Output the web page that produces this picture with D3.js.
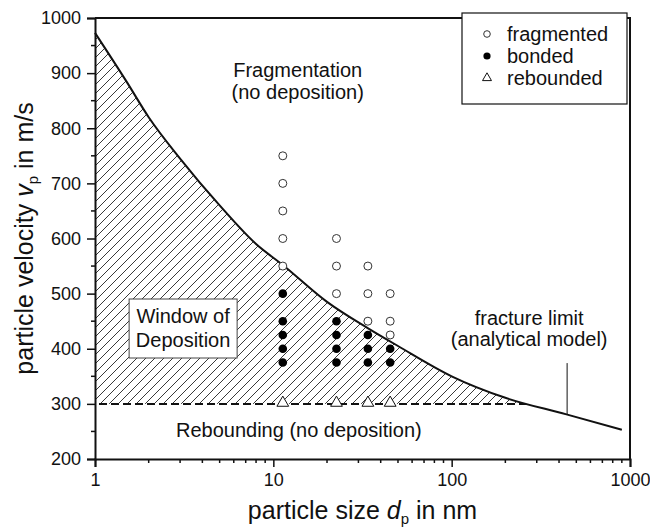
<!DOCTYPE html>
<html><head><meta charset="utf-8">
<script src="https://cdn.jsdelivr.net/npm/d3@7/dist/d3.min.js"></script>
<style>
body{margin:0;background:#fff;}
svg text{font-family:"Liberation Sans",Arial,sans-serif;fill:#111;}
</style></head>
<body><svg id="c" width="650" height="528"></svg>
<script>
// ---- data ----
const curveD = [1, 1.5, 2, 3, 5, 8, 11.3, 20, 34, 50, 100, 200, 440, 900];
const curveV = [973, 885, 820, 745, 660, 590, 552, 485, 437, 405, 350, 311, 281, 253];
const fragD = [11.3,11.3,11.3,11.3,11.3, 22.6,22.6,22.6, 33.9,33.9,33.9, 45.2,45.2,45.2];
const fragV = [750,700,650,600,550, 600,550,500, 550,500,450, 500,450,425];
const bondD = [11.3,11.3,11.3,11.3,11.3, 22.6,22.6,22.6,22.6, 33.9,33.9,33.9, 45.2,45.2];
const bondV = [500,450,425,400,375, 450,425,400,375, 425,400,375, 400,375];
const rebD = [11.3, 22.6, 33.9, 45.2];
const rebV = [300, 300, 300, 300];
const reboundLimit = 300;
const xTicks = [1, 10, 100, 1000];
const yTicks = [200, 300, 400, 500, 600, 700, 800, 900, 1000];
const legendLabels = ["fragmented", "bonded", "rebounded"];

const svg = d3.select("#c");
const W = 650, H = 528;
const m = {l:95, t:18, r:20, b:69};
const x = d3.scaleLog().domain([1,1000]).range([m.l, W-m.r]);
const y = d3.scaleLinear().domain([200,1000]).range([H-m.b, m.t]);

// hatch pattern
const defs = svg.append("defs");
const pat = defs.append("pattern").attr("id","hatch").attr("patternUnits","userSpaceOnUse")
  .attr("width",9).attr("height",9);
pat.append("path").attr("d","M0,9 L9,0 M-2,2 L2,-2 M7,11 L11,7")
  .attr("stroke","#222").attr("stroke-width",0.9);

const pts = curveD.map((d,i)=>[d,curveV[i]]);
const line = d3.line().x(d=>x(d[0])).y(d=>y(d[1])).curve(d3.curveMonotoneX);
const curvePath = line(pts);

defs.append("clipPath").attr("id","under").append("path")
  .attr("d", curvePath + `L${x(curveD[curveD.length-1])},${y(200)}L${x(1)},${y(200)}Z`);

// hatched window
svg.append("rect").attr("clip-path","url(#under)")
  .attr("x",x(1)).attr("y",y(1000)).attr("width",x(1000)-x(1)).attr("height",y(reboundLimit)-y(1000))
  .attr("fill","url(#hatch)");

// dashed rebound line
svg.append("line").attr("clip-path","url(#under)")
  .attr("x1",x(1)+4).attr("x2",x(1000)).attr("y1",y(reboundLimit)).attr("y2",y(reboundLimit))
  .attr("stroke","#111").attr("stroke-width",2).attr("stroke-dasharray","8,4");

// fracture curve
svg.append("path").attr("d",curvePath).attr("fill","none").attr("stroke","#111").attr("stroke-width",2);

// annotation pointer
const ptrD = 444, ptrTop = 374;
const interpV = d=>{ for(let i=0;i<curveD.length-1;i++){ if(d>=curveD[i]&&d<=curveD[i+1]){const t=(Math.log(d)-Math.log(curveD[i]))/(Math.log(curveD[i+1])-Math.log(curveD[i]));return curveV[i]+t*(curveV[i+1]-curveV[i]);}} return curveV[curveV.length-1];};
svg.append("line").attr("x1",x(ptrD)).attr("x2",x(ptrD)).attr("y1",y(ptrTop)).attr("y2",y(interpV(ptrD)))
  .attr("stroke","#111").attr("stroke-width",1);

// Window of deposition box
const wx = x(3.12);
svg.append("rect").attr("x",wx-54).attr("y",y(1000)+281).attr("width",108).attr("height",59)
  .attr("fill","#fff").attr("stroke","#444").attr("stroke-width",1);
svg.append("text").attr("x",wx).attr("y",y(447)).attr("text-anchor","middle").attr("font-size",20).text("Window of");
svg.append("text").attr("x",wx).attr("y",y(403)).attr("text-anchor","middle").attr("font-size",20).text("Deposition");

// region labels
const lab = (d,v,t)=>svg.append("text").attr("x",x(d)).attr("y",y(v)).attr("text-anchor","middle").attr("font-size",20).text(t);
lab(13.7,893,"Fragmentation");
lab(13.7,853,"(no deposition)");
lab(13.9,240,"Rebounding (no deposition)");
lab(272,443,"fracture limit");
lab(272,405,"(analytical model)");

// markers
svg.append("g").selectAll("circle").data(fragD.map((d,i)=>[d,fragV[i]])).join("circle")
  .attr("cx",d=>x(d[0])).attr("cy",d=>y(d[1])).attr("r",4)
  .attr("fill","#fff").attr("stroke","#333").attr("stroke-width",1);
svg.append("g").selectAll("circle").data(bondD.map((d,i)=>[d,bondV[i]])).join("circle")
  .attr("cx",d=>x(d[0])).attr("cy",d=>y(d[1])).attr("r",4.3).attr("fill","#000");
const tri = d3.symbol().type(d3.symbolTriangle).size(60);
svg.append("g").selectAll("path").data(rebD.map((d,i)=>[d,rebV[i]])).join("path")
  .attr("d",tri).attr("transform",d=>`translate(${x(d[0])},${y(d[1])-1})`)
  .attr("fill","#fff").attr("stroke","#111").attr("stroke-width",1);

// axes
const xAxis = d3.axisBottom(x).tickValues(xTicks).tickFormat(d3.format("d")).tickSize(8).tickPadding(6);
const gx = svg.append("g").attr("transform",`translate(0,${y(200)})`).call(xAxis);
const minorX = [];
[1,10,100].forEach(b=>{for(let k=2;k<=9;k++)minorX.push(b*k);});
gx.selectAll(".minor").data(minorX).join("line").attr("class","minor")
  .attr("x1",d=>x(d)).attr("x2",d=>x(d)).attr("y1",0).attr("y2",4).attr("stroke","#111").attr("stroke-width",1.5);
const yAxis = d3.axisLeft(y).tickValues(yTicks).tickFormat(d3.format("d")).tickSize(8).tickPadding(6);
const gy = svg.append("g").attr("transform",`translate(${x(1)},0)`).call(yAxis);
const minorY = yTicks.slice(0,-1).map(v=>v+50);
gy.selectAll(".minor").data(minorY).join("line").attr("class","minor")
  .attr("x1",-4).attr("x2",0).attr("y1",d=>y(d)).attr("y2",d=>y(d)).attr("stroke","#111").attr("stroke-width",1.5);
[gx,gy].forEach(g=>{
  g.select(".domain").attr("stroke","#111").attr("stroke-width",2);
  g.selectAll(".tick line").attr("stroke","#111").attr("stroke-width",1.5);
  g.selectAll(".tick text").attr("font-size",18).attr("fill","#111").attr("font-family","Liberation Sans, Arial, sans-serif");
});
// frame top/right
svg.append("path").attr("d",`M${x(1)},${y(1000)}H${x(1000)}V${y(200)}`).attr("fill","none").attr("stroke","#111").attr("stroke-width",2);

// legend
const lg = svg.append("g");
lg.append("rect").attr("x",462).attr("y",13).attr("width",165).attr("height",91).attr("fill","#fff").attr("stroke","#111").attr("stroke-width",1.2);
legendLabels.forEach((t,i)=>{
  const cy = 34 + i*22;
  if(i===0) lg.append("circle").attr("cx",487).attr("cy",cy).attr("r",3.3).attr("fill","#fff").attr("stroke","#333");
  if(i===1) lg.append("circle").attr("cx",487).attr("cy",cy).attr("r",3.6).attr("fill","#000");
  if(i===2) lg.append("path").attr("d",d3.symbol().type(d3.symbolTriangle).size(35)).attr("transform",`translate(487,${cy})`).attr("fill","#fff").attr("stroke","#111");
  lg.append("text").attr("x",507).attr("y",cy+7).attr("font-size",20).text(t);
});

// axis titles
const xt = svg.append("text").attr("x",(x(1)+x(1000))/2).attr("y",519).attr("text-anchor","middle").attr("font-size",25);
xt.append("tspan").text("particle size ");
xt.append("tspan").attr("font-style","italic").text("d");
xt.append("tspan").attr("font-size",15).attr("dy",5).text("p");
xt.append("tspan").attr("dy",-5).text(" in nm");
const yt = svg.append("text").attr("transform",`translate(33,${(y(200)+y(1000))/2}) rotate(-90)`).attr("text-anchor","middle").attr("font-size",25);
yt.append("tspan").text("particle velocity ");
yt.append("tspan").attr("font-style","italic").text("v");
yt.append("tspan").attr("font-size",15).attr("dy",5).text("p");
yt.append("tspan").attr("dy",-5).text(" in m/s");
</script></body></html>
